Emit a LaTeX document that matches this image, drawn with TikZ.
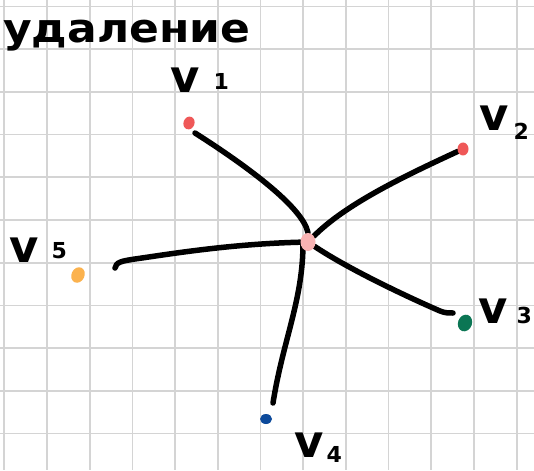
\documentclass[tikz,border=0pt]{standalone}
\usepackage{fontspec}
\setmainfont{DejaVu Sans}
\usetikzlibrary{shapes.geometric,calc}
\pgfdeclarelayer{gridlayer}
\pgfdeclarelayer{edgelayer}
\pgfsetlayers{gridlayer,edgelayer,main}
\definecolor{gridgray}{HTML}{D4D4D4}
\definecolor{vred}{HTML}{EF5858}
\definecolor{vorange}{HTML}{FBB24E}
\definecolor{vgreen}{HTML}{0B7654}
\definecolor{vblue}{HTML}{0D4A9B}
\definecolor{vpink}{HTML}{F8B2B2}
\newcommand\vlab[3]{v\kern#1pt\raisebox{#2pt}{\fontsize{22}{22}\selectfont #3}}
\begin{document}
\begin{tikzpicture}[x=1pt,y=-1pt,
  gridline/.style={draw=gridgray,line width=1.7pt},
  edge/.style={draw=black,line width=5.5pt,line cap=round,line join=round},
  dot/.style={ellipse,inner sep=0pt,draw=none},
  lab/.style={anchor=base west,inner sep=0pt,font=\bfseries\fontsize{45}{45}\selectfont},
  titletext/.style={anchor=base west,inner sep=0pt,xscale=1.1,font=\bfseries\fontsize{40}{40}\selectfont}]
\useasboundingbox (0,0) rectangle (534,470);
\begin{pgfonlayer}{gridlayer}
  \fill[white] (0,0) rectangle (534,470);
  \foreach \k in {0,...,12} \draw[gridline] (4.3+42.7*\k,0) -- (4.3+42.7*\k,470);
  \foreach \k in {0,...,10} \draw[gridline] (0,6.5+42.7*\k) -- (534,6.5+42.7*\k);
\end{pgfonlayer}

% title
\node[titletext] (title) at (3,43) {удаление};

% vertices
\node[dot,fill=vred,minimum width=11pt,minimum height=13pt,rotate=-20] (v1) at (189,123) {};
\node[dot,fill=vred,minimum width=11pt,minimum height=13pt] (v2) at (463,149) {};
\node[dot,fill=vgreen,minimum width=14pt,minimum height=17pt,rotate=-20] (v3) at (465,323) {};
\node[dot,fill=vblue,minimum width=12pt,minimum height=10pt] (v4) at (266,419) {};
\node[dot,fill=vorange,minimum width=13pt,minimum height=16pt,rotate=-25] (v5) at (78,275) {};
\node[dot,fill=vpink,minimum width=15pt,minimum height=18pt] (c) at (308,242) {};

% labels
\node[lab] (l1) at (170,93) {\vlab{14}{3}{1}};
\node[lab] (l2) at (479,131) {\vlab{5}{-9}{2}};
\node[lab] (l3) at (478,323) {\vlab{9}{0}{3}};
\node[lab] (l4) at (294,457) {\vlab{3}{-5}{4}};
\node[lab] (l5) at (9,262) {\vlab{13}{4}{5}};

% free ends of edges
\coordinate (e1s) at (195,133);
\coordinate (e3e) at (453,313);
\coordinate (e4e) at (273,403);
\coordinate (e5s) at (115,268);
\coordinate (c4) at ($(c)+(-5,1)$);

\begin{pgfonlayer}{edgelayer}
  \draw[edge] (e1s) .. controls (250,168) and (303,208) .. (c.north);
  \draw[edge] (v2) .. controls (400,178) and (345,205) .. (c);
  \draw[edge] (c) .. controls (350,270) and (410,298) .. (440,311)
              .. controls (445,313) and (448,313) .. (e3e);
  \draw[edge] (c4) .. controls (303,300) and (283,340) .. (e4e);
  \draw[edge] (e5s) .. controls (116,262) and (122,261) .. (135,259)
              .. controls (170,254) and (230,244) .. (c);
\end{pgfonlayer}
\end{tikzpicture}
\end{document}
